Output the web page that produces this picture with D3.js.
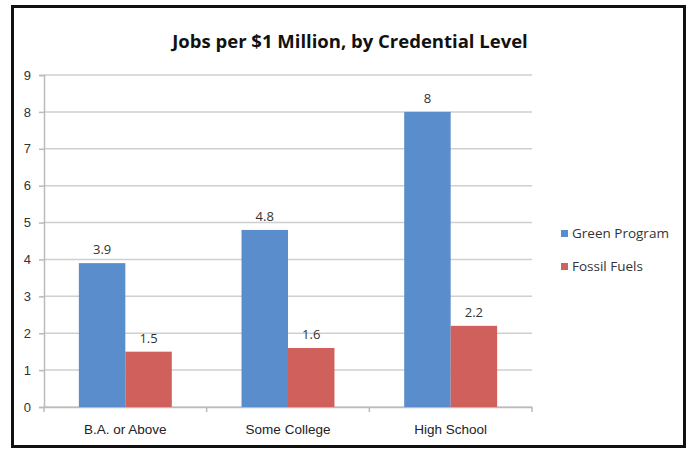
<!DOCTYPE html>
<html>
<head>
<meta charset="utf-8">
<script src="https://cdn.jsdelivr.net/npm/d3@7"></script>
<style>
  body { margin: 0; background: #fff; }
  svg { display: block; font-family: "Open Sans", "Liberation Sans", sans-serif; }
</style>
</head>
<body>
<svg id="chart" width="696" height="450"></svg>
<script>
const categories = ["B.A. or Above", "Some College", "High School"];
const seriesNames = ["Green Program", "Fossil Fuels"];
const greenValues = [3.9, 4.8, 8];
const fossilValues = [1.5, 1.6, 2.2];
const yTicks = [0, 1, 2, 3, 4, 5, 6, 7, 8, 9];
const colors = ["#5a8dcc", "#d0605c"];

const svg = d3.select("#chart");

// frame
svg.append("rect")
  .attr("x", 12.5).attr("y", 6.5)
  .attr("width", 672).attr("height", 440)
  .attr("fill", "#fff")
  .attr("stroke", "#111")
  .attr("stroke-width", 3);

svg.append("text")
  .attr("x", 350).attr("y", 48)
  .attr("text-anchor", "middle")
  .attr("font-size", 18.5)
  .attr("font-weight", "bold")
  .attr("fill", "#111")
  .text("Jobs per $1 Million, by Credential Level");

const plot = { left: 44, right: 532, top: 75, bottom: 407 };

const x = d3.scaleBand().domain(categories).range([plot.left, plot.right]);
const y = d3.scaleLinear().domain([0, 9]).range([plot.bottom, plot.top]);

// gridlines
svg.append("g").selectAll("line")
  .data(yTicks)
  .enter().append("line")
  .attr("x1", plot.left).attr("x2", plot.right)
  .attr("y1", d => y(d)).attr("y2", d => y(d))
  .attr("stroke", "#cfcfcf")
  .attr("stroke-width", 1.5);

// y axis
const yAxis = svg.append("g")
  .attr("transform", `translate(${plot.left},0)`)
  .call(d3.axisLeft(y).tickValues(yTicks).tickSize(5).tickPadding(8));
yAxis.select(".domain").attr("stroke", "#bbb").attr("stroke-width", 1.5);
yAxis.selectAll(".tick line").attr("stroke", "#bbb").attr("stroke-width", 1.5);
yAxis.selectAll("text").attr("font-size", 13).attr("fill", "#333");

// x axis
const xAxis = svg.append("g")
  .attr("transform", `translate(0,${plot.bottom})`)
  .call(d3.axisBottom(x).tickSize(0).tickPadding(17));
xAxis.select(".domain").attr("stroke", "#bbb").attr("stroke-width", 1.5);
xAxis.selectAll("text").attr("font-size", 13.5).attr("fill", "#222");
xAxis.selectAll(".sep")
  .data(d3.range(categories.length + 1))
  .enter().append("line")
  .attr("x1", i => plot.left + i * x.step()).attr("x2", i => plot.left + i * x.step())
  .attr("y1", 0).attr("y2", 5)
  .attr("stroke", "#bbb").attr("stroke-width", 1.5);

// bars: gap width 150%
const inner = d3.scaleBand().domain(seriesNames)
  .range([0, x.bandwidth()]).paddingOuter(0.75).paddingInner(0);

const rows = categories.map((c, i) => ({ cat: c, vals: [greenValues[i], fossilValues[i]] }));

const groups = svg.append("g").selectAll("g")
  .data(rows)
  .enter().append("g")
  .attr("transform", d => `translate(${x(d.cat)},0)`);

groups.selectAll("rect")
  .data(d => d.vals.map((v, j) => ({ name: seriesNames[j], v, j })))
  .enter().append("rect")
  .attr("x", d => inner(d.name))
  .attr("y", d => y(d.v))
  .attr("width", inner.bandwidth())
  .attr("height", d => y(0) - y(d.v))
  .attr("fill", d => colors[d.j]);

groups.selectAll("text")
  .data(d => d.vals.map((v, j) => ({ name: seriesNames[j], v, j })))
  .enter().append("text")
  .attr("x", d => inner(d.name) + inner.bandwidth() / 2)
  .attr("y", d => y(d.v) - 9)
  .attr("text-anchor", "middle")
  .attr("font-size", 13)
  .attr("fill", "#333")
  .text(d => d.v);

// legend
const legend = svg.append("g").attr("transform", "translate(561,230)");
const items = legend.selectAll("g")
  .data(seriesNames)
  .enter().append("g")
  .attr("transform", (d, i) => `translate(0,${i * 33})`);
items.append("rect")
  .attr("width", 7).attr("height", 7)
  .attr("fill", (d, i) => colors[i]);
items.append("text")
  .attr("x", 11).attr("y", 8)
  .attr("font-size", 13.5)
  .attr("fill", "#333")
  .text(d => d);
</script>
</body>
</html>
